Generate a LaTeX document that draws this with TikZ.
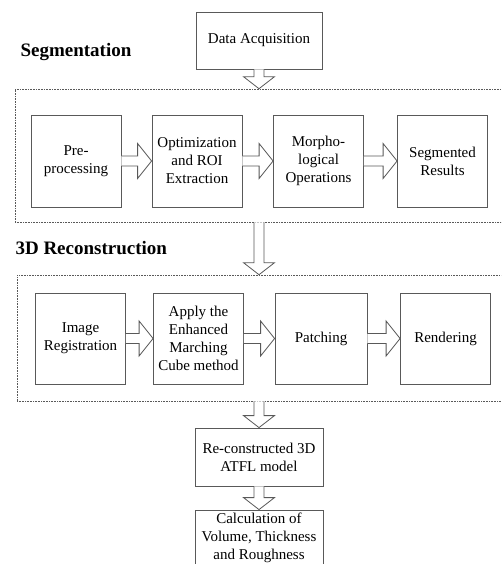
\documentclass[tikz,border=0pt]{standalone}
\usepackage{fontspec}
\setmainfont{Liberation Serif}
\usepackage{tikz}
\usetikzlibrary{calc}
\usetikzlibrary{positioning}
\colorlet{boxline}{black!65}
% hollow block arrows, tip on the second point
\newcommand{\HollowDown}[2]{\draw[BlockArrow] let \p1=(#1), \p2=(#2) in
(\x1-5pt,\y1) -- (\x1-5pt,\y2+12pt) -- (\x1-15.5pt,\y2+12pt) -- (\x1,\y2)
-- (\x1+15.5pt,\y2+12pt) -- (\x1+5pt,\y2+12pt) -- (\x1+5pt,\y1)}
\newcommand{\HollowRight}[2]{\draw[BlockArrow] let \p1=(#1), \p2=(#2) in
(\x1,\y1+5pt) -- (\x2-14pt,\y1+5pt) -- (\x2-14pt,\y1+17.5pt) -- (\x2,\y1)
-- (\x2-14pt,\y1-17.5pt) -- (\x2-14pt,\y1-5pt) -- (\x1,\y1-5pt)}

\begin{document}
\begin{tikzpicture}[
x=1pt,y=-1pt,
Step/.style={draw=boxline,line width=0.8pt,fill=white,align=center,inner sep=0pt,
  font=\fontsize{15}{18}\selectfont},
StageBox/.style={Step,minimum width=90pt,minimum height=92pt},
Frame/.style={draw=boxline,line width=0.6pt,dash pattern=on 0.8pt off 0.8pt},
Stage/.style={anchor=west,font=\fontsize{19}{22}\selectfont\bfseries},
BlockArrow/.style={draw=boxline,line width=0.8pt,fill=white,line join=miter}
]
\useasboundingbox (0,0) rectangle (501,564);
\clip (0,0) rectangle (501,564);

% dotted frames round the two stages
\node[Frame,minimum width=490pt,minimum height=133pt] (SegFrame) at (260,155.5) {};
\node[Frame,minimum width=488pt,minimum height=126pt] (RecFrame) at (261,338) {};

\node[Stage] (SegTitle) at (17,52) {Segmentation};
\node[Stage] (RecTitle) at (12,248) {3D Reconstruction};

\node[Step,minimum width=126pt,minimum height=57pt] (Data) at (259,40.5) {Data Acquisition};

% segmentation
\node[StageBox] (Pre) at (76,161) {Pre-\\processing};
\node[StageBox] (Opt) at (197,161) {Optimization\\and ROI\\Extraction};
\node[StageBox] (Morph) at (318.5,161) {Morpho-\\logical\\Operations};
\node[StageBox] (SegRes) at (442.5,161) {Segmented\\Results};

% reconstruction
\node[StageBox,minimum height=91pt] (Reg) at (80.5,338.5) {Image\\Registration};
\node[StageBox,minimum height=91pt] (March) at (198.5,338.5) {Apply the\\Enhanced\\Marching\\Cube method};
\node[StageBox,minimum height=91pt,minimum width=92pt] (Patch) at (321,338.5) {Patching};
\node[StageBox,minimum height=91pt] (Render) at (445.5,338.5) {Rendering};

\node[Step,minimum width=128pt,minimum height=58pt] (Recon) at (259,457) {Re-constructed 3D\\ATFL model};
\node[Step,minimum width=128pt,minimum height=56pt] (Calc) at (259,538) {Calculation of\\Volume, Thickness\\and Roughness};

\HollowDown{Data.south}{Data.south |- SegFrame.north};
\HollowRight{Pre.east}{Opt.west};
\HollowRight{Opt.east}{Morph.west};
\HollowRight{Morph.east}{SegRes.west};

\HollowDown{Data.south |- SegFrame.south}{Data.south |- RecFrame.north};
\HollowRight{Reg.east}{March.west};
\HollowRight{March.east}{Patch.west};
\HollowRight{Patch.east}{Render.west};

\HollowDown{Recon.north |- RecFrame.south}{Recon.north};
\HollowDown{Recon.south}{Calc.north};

\end{tikzpicture}
\end{document}
